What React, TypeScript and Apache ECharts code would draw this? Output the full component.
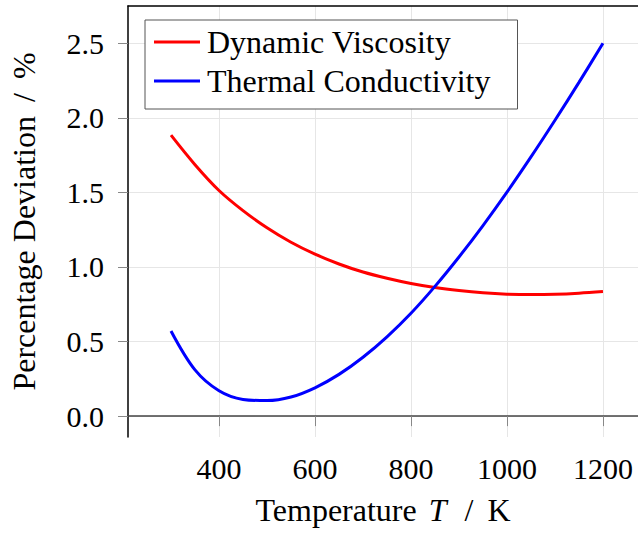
import React, { useEffect, useRef } from "react";
import * as echarts from "echarts";

const temperatures = [300, 350, 400, 450, 500, 550, 600, 650, 700, 750, 800, 850, 900, 950, 1000, 1050, 1100, 1150, 1200];
const dynamicViscosity = [1.884, 1.686, 1.513, 1.378, 1.263, 1.166, 1.086, 1.02, 0.966, 0.924, 0.889, 0.862, 0.842, 0.827, 0.818, 0.815, 0.817, 0.824, 0.835];
const thermalConductivity = [0.571, 0.31, 0.17, 0.112, 0.104, 0.128, 0.19, 0.28, 0.395, 0.532, 0.69, 0.87, 1.067, 1.278, 1.502, 1.738, 1.984, 2.238, 2.5];
const xTicks = [400, 600, 800, 1000, 1200];
const yTicks = [0, 0.5, 1.0, 1.5, 2.0, 2.5];
const seriesNames = ["Dynamic Viscosity", "Thermal Conductivity"];

const FONT = "'Liberation Serif', 'DejaVu Serif', serif";

export default function App() {
  const ref = useRef<HTMLDivElement>(null);
  useEffect(() => {
    if (!ref.current) return;
    const chart = echarts.init(ref.current, null, { renderer: "svg" });
    const pair = (ys: number[]) => temperatures.map((t, i) => [t, ys[i]]);
    chart.setOption({
      animation: false,
      backgroundColor: "#ffffff",
      grid: { left: 128, right: 0, top: 6, bottom: 99, containLabel: false },
      legend: {
        left: 145,
        top: 20,
        orient: "vertical",
        icon: "rect",
        itemWidth: 46,
        itemHeight: 3,
        itemGap: 7,
        padding: [6, 27, 12, 9],
        borderColor: "#555555",
        borderWidth: 1,
        backgroundColor: "#ffffff",
        textStyle: { fontFamily: FONT, fontSize: 32, color: "#000", lineHeight: 30, padding: [0, 0, 0, 2] },
        data: seriesNames,
      },
      xAxis: [
        {
          type: "value",
          min: 210.4,
          max: 1273,
          name: "Temperature {i|T} {s|/} K",
          nameLocation: "middle",
          nameGap: 57,
          nameTextStyle: {
            fontFamily: FONT,
            fontSize: 32,
            color: "#000",
            rich: {
              i: { fontFamily: FONT, fontSize: 32, fontStyle: "italic", color: "#000", padding: [0, 4, 0, 4] },
              s: { fontFamily: FONT, fontSize: 32, color: "#000", padding: [0, 6, 0, 6] },
            },
          },
          axisLine: { show: true, lineStyle: { color: "#444444", width: 1.5 } },
          axisTick: { show: true, inside: false, length: 10, customValues: xTicks, lineStyle: { color: "#888888", width: 1 } },
          axisLabel: {
            customValues: xTicks,
            fontFamily: FONT,
            fontSize: 30,
            color: "#000",
            margin: 16,
            formatter: (v: number) => String(v),
          },
          splitLine: { show: true, lineStyle: { color: "#e6e6e6", width: 1 } },
        },
        {
          type: "value",
          position: "top",
          min: 210.4,
          max: 1273,
          axisLine: { show: true, lineStyle: { color: "#000000", width: 1.5 } },
          axisTick: { show: false },
          axisLabel: { show: false },
          splitLine: { show: false },
        },
      ],
      yAxis: {
        type: "value",
        min: -0.14,
        max: 2.75,
        name: "Percentage Deviation {s|/} %",
        nameLocation: "middle",
        nameGap: 88,
        nameTextStyle: {
          fontFamily: FONT,
          fontSize: 32,
          color: "#000",
          rich: { s: { fontFamily: FONT, fontSize: 32, color: "#000", padding: [0, 6, 0, 6] } },
        },
        axisLine: { show: true, lineStyle: { color: "#000000", width: 1.5 } },
        axisTick: { show: true, inside: false, length: 10, customValues: yTicks, lineStyle: { color: "#888888", width: 1 } },
        axisLabel: {
          customValues: yTicks,
          fontFamily: FONT,
          fontSize: 30,
          color: "#000",
          margin: 24,
          formatter: (v: number) => v.toFixed(1),
        },
        splitLine: { show: true, lineStyle: { color: "#e6e6e6", width: 1 } },
      },
      series: [
        {
          name: seriesNames[0],
          type: "line",
          data: pair(dynamicViscosity),
          smooth: 0.35,
          showSymbol: false,
          symbol: "none",
          color: "#ff0000",
          lineStyle: { color: "#ff0000", width: 3 },
        },
        {
          name: seriesNames[1],
          type: "line",
          data: pair(thermalConductivity),
          smooth: 0.35,
          showSymbol: false,
          symbol: "none",
          color: "#0000ff",
          lineStyle: { color: "#0000ff", width: 3 },
        },
      ],
    });
    return () => chart.dispose();
  }, []);
  return (
    <div
      ref={ref}
      style={{ position: "absolute", left: 0, top: 0, width: 638, height: 536, background: "#ffffff" }}
    />
  );
}
